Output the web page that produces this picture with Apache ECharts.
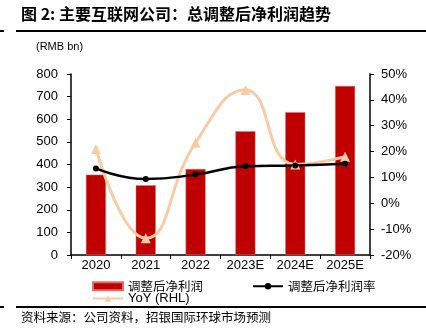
<!DOCTYPE html>
<html><head><meta charset="utf-8">
<script src="https://cdn.jsdelivr.net/npm/echarts@6/dist/echarts.min.js"></script>
<style>html,body{margin:0;padding:0;background:#fff}#c{width:426px;height:335px}</style>
</head><body><div id="c"></div>
<script>
var categories = ['2020','2021','2022','2023E','2024E','2025E'];
var netProfit = [355, 308, 380, 547, 631, 747];
var margin = [13.5, 9.4, 11.1, 14.3, 14.6, 15.3];
var yoy = [21, -13.5, 23.4, 43.8, 15, 18];
var leftTicks = [0, 800, 100];
var rightTicks = [-20, 50, 10];

var chart = echarts.init(document.getElementById('c'), null, {renderer:'canvas'});
var cjk = '"Noto Sans CJK SC", sans-serif';
var lat = '"Liberation Sans", Arial, sans-serif';
chart.setOption({
  animation:false,
  grid:{left:71,right:56,top:74,bottom:80},
  legend:[
    {left:87,top:275,itemWidth:30,itemHeight:8,itemGap:10,data:[{name:'调整后净利润',icon:'rect'}],
     textStyle:{fontFamily:cjk,fontSize:12.5,color:'#000'}},
    {left:247,top:275,itemWidth:30,itemHeight:8,data:['调整后净利润率'],
     textStyle:{fontFamily:cjk,fontSize:12.5,color:'#000'}},
    {left:87,top:287,itemWidth:30,itemHeight:8,data:['YoY (RHL)'],
     textStyle:{fontFamily:lat,fontSize:13,color:'#000'}}
  ],
  xAxis:{type:'category',data:categories,
    axisLine:{lineStyle:{color:'#000',width:1.5}},
    axisTick:{show:true,alignWithLabel:false,length:4,lineStyle:{color:'#000'}},
    axisLabel:{color:'#000',fontFamily:lat,fontSize:13,margin:4}},
  yAxis:[
    {type:'value',min:leftTicks[0],max:leftTicks[1],interval:leftTicks[2],
     axisLine:{show:true,lineStyle:{color:'#000',width:1.5}},
     axisTick:{show:true,length:4,lineStyle:{color:'#000'}},
     splitLine:{show:false},
     axisLabel:{color:'#000',fontFamily:lat,fontSize:13,margin:13}},
    {type:'value',min:rightTicks[0],max:rightTicks[1],interval:rightTicks[2],
     axisLine:{show:true,lineStyle:{color:'#000',width:1.5}},
     axisTick:{show:true,length:4,lineStyle:{color:'#000'}},
     splitLine:{show:false},
     axisLabel:{color:'#000',fontFamily:lat,fontSize:13,margin:11,formatter:'{value}%'}}
  ],
  series:[
    {name:'调整后净利润',type:'bar',data:netProfit,barWidth:20,
     itemStyle:{color:'#C00000',borderColor:'#e07070',borderWidth:0.5}},
    {name:'YoY (RHL)',type:'line',yAxisIndex:1,data:yoy,smooth:0.5,
     symbol:'triangle',symbolSize:10,
     lineStyle:{color:'#F9CBA5',width:3},itemStyle:{color:'#F9CBA5'}},
    {name:'调整后净利润率',type:'line',yAxisIndex:1,data:margin,smooth:0.5,
     symbol:'circle',symbolSize:6,
     lineStyle:{color:'#000',width:2.5},itemStyle:{color:'#000'}}
  ],
  graphic:[
    {type:'text',left:21,top:6,style:{text:'图 2: 主要互联网公司：总调整后净利润趋势',
      font:'bold 16px '+cjk,fill:'#000'}},
    {type:'rect',shape:{x:16,y:30,width:410,height:2},style:{fill:'#000'}},
    {type:'rect',shape:{x:0,y:30,width:4,height:2},style:{fill:'#000'}},
    {type:'text',left:36,top:41,style:{text:'(RMB bn)',font:'11px '+lat,fill:'#000'}},
    {type:'rect',shape:{x:16,y:306,width:410,height:2},style:{fill:'#000'}},
    {type:'rect',shape:{x:0,y:306,width:4,height:2},style:{fill:'#000'}},
    {type:'text',left:21,top:311,style:{text:'资料来源：公司资料，招银国际环球市场预测',
      font:'12.5px '+cjk,fill:'#000'}}
  ]
});
</script></body></html>
